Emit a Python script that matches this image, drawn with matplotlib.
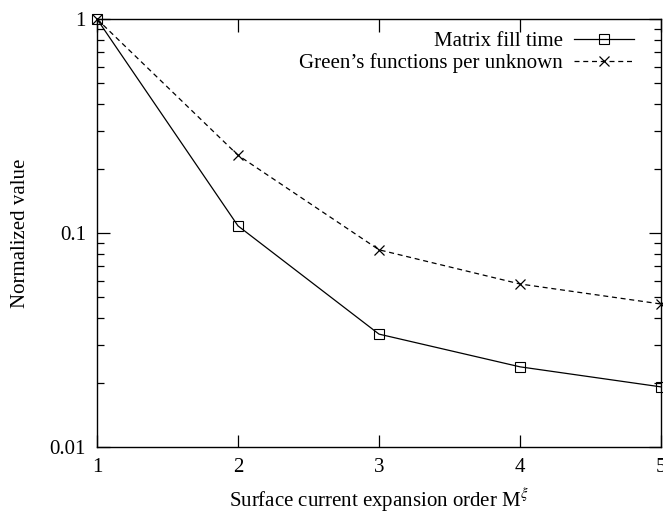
import matplotlib
matplotlib.use("Agg")
import matplotlib.pyplot as plt
from matplotlib.ticker import LogLocator, FixedLocator, NullFormatter

order = [1, 2, 3, 4, 5]
matrix_fill = [1.0, 0.108, 0.0337, 0.0237, 0.0191]
greens = [1.0, 0.231, 0.0835, 0.0578, 0.0466]
ytick_vals = [0.01, 0.1, 1]
ytick_labels = ["0.01", "0.1", "1"]

plt.rcParams['font.family'] = ['Liberation Serif', 'DejaVu Serif']
plt.rcParams['mathtext.fontset'] = 'stix'

fig = plt.figure(figsize=(6.63, 5.15), dpi=100)
ax = fig.add_axes([0.1463, 0.132, 0.8507, 0.831])

ax.plot(order, matrix_fill, '-', color='black', lw=0.9, marker='s', ms=6.5,
        mfc='none', mec='black', mew=0.8, label='Matrix fill time', clip_on=False)
ax.plot(order, greens, '--', color='black', lw=0.9, marker='x', ms=6.5,
        mew=0.9, dashes=(4, 3), label="Green\u2019s functions per unknown", clip_on=False)

ax.set_yscale('log')
ax.set_xlim(1, 5)
ax.set_ylim(0.01, 1)
ax.xaxis.set_major_locator(FixedLocator(order))
ax.set_xticklabels([str(v) for v in order])
ax.yaxis.set_major_locator(FixedLocator(ytick_vals))
ax.set_yticklabels(ytick_labels)
ax.yaxis.set_minor_locator(LogLocator(base=10, subs=range(2, 10)))
ax.yaxis.set_minor_formatter(NullFormatter())

ax.tick_params(which='both', direction='in', top=True, right=True, labelsize=15, pad=8)
ax.tick_params(which='major', length=9, width=0.9)
ax.tick_params(which='minor', length=5, width=0.9)
for s in ax.spines.values():
    s.set_linewidth(1.0)

ax.set_xlabel(r"Surface current expansion order M$^{\xi}$", fontsize=15, labelpad=7)
ax.set_ylabel("Normalized value", fontsize=15, labelpad=14)

leg = ax.legend(loc='upper right', frameon=False, markerfirst=False, fontsize=15,
                handlelength=2.9, borderaxespad=0.2, borderpad=0.4, labelspacing=0.1,
                handletextpad=0.55, bbox_to_anchor=(0.975, 1.0))

fig.savefig("out.png", dpi=100)
